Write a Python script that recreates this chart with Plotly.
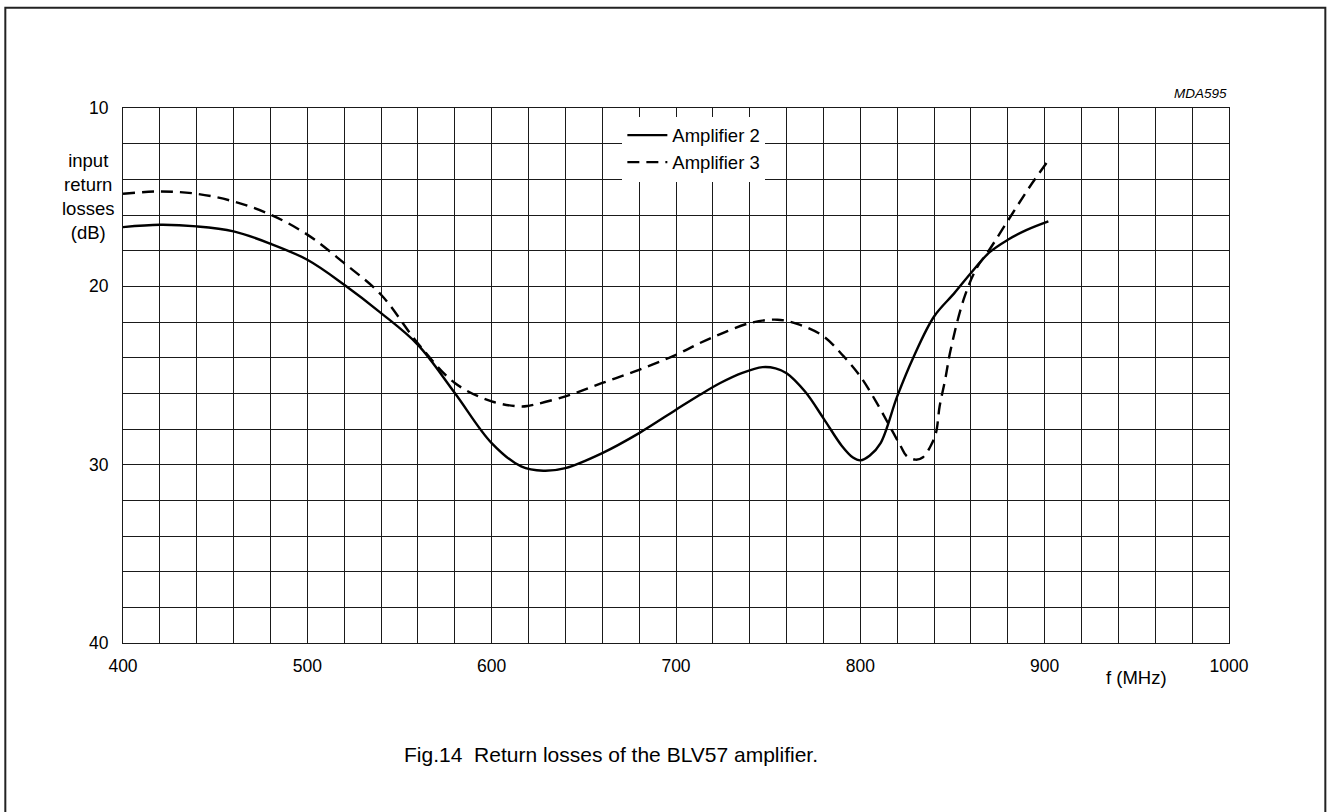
import plotly.graph_objects as go

# Input return losses (dB) versus frequency (MHz)
freq_amp2 = [400, 420, 440, 460, 480, 500, 520, 540, 560, 580, 600, 616, 628, 640,
             660, 680, 700, 713, 724, 736, 747, 754, 760, 770, 780, 790, 796,
             800, 805, 811, 820, 829, 840, 851, 860, 870, 880, 890, 902]
loss_amp2 = [16.68, 16.55, 16.64, 16.92, 17.61, 18.51, 19.91, 21.5, 23.28, 25.98,
             28.79, 30.1, 30.34, 30.19, 29.35, 28.23, 26.92, 26.08, 25.42, 24.85,
             24.53, 24.6, 24.87, 25.9, 27.4, 28.95, 29.6, 29.76, 29.5,
             28.79, 26.17, 23.93, 21.69, 20.38, 19.25, 18.1, 17.39, 16.85, 16.36]

freq_amp3 = [400, 420, 440, 460, 480, 500, 520, 540, 560, 580, 600, 616, 620, 640,
             660, 680, 700, 713, 724, 740, 755, 767, 780, 791, 800, 809, 816, 822,
             825, 830, 834, 838, 841, 843, 846, 849, 856, 863, 870, 882, 892, 903]
loss_amp3 = [14.81, 14.68, 14.81, 15.24, 15.98, 17.1, 18.7, 20.47, 23.2, 25.42,
             26.45, 26.74, 26.7, 26.17, 25.42, 24.68, 23.84, 23.18, 22.68, 22.06,
             21.87, 22.15, 22.8, 23.93, 25.05, 26.55, 27.86, 28.98, 29.5, 29.72,
             29.58, 28.98, 28.23, 26.74, 25.24, 23.56, 20.75, 19.0, 17.95, 16.0,
             14.4, 12.8]

x_ticks = [400, 500, 600, 700, 800, 900, 1000]
y_ticks = [10, 20, 30, 40]

FONT = "Liberation Sans, Arial, sans-serif"
GRID = "#1a1a1a"

fig = go.Figure()
fig.add_trace(go.Scatter(
    x=freq_amp2, y=loss_amp2, mode="lines", name="Amplifier 2",
    line=dict(color="black", width=2.4, shape="spline", smoothing=1.0),
))
fig.add_trace(go.Scatter(
    x=freq_amp3, y=loss_amp3, mode="lines", name="Amplifier 3",
    line=dict(color="black", width=2.4, dash="12px,7px", shape="spline", smoothing=1.0),
))

fig.update_xaxes(
    range=[400, 1000], tickvals=x_ticks, ticktext=[str(v) for v in x_ticks],
    showgrid=True, gridcolor=GRID, gridwidth=1,
    minor=dict(dtick=20, showgrid=True, gridcolor=GRID, gridwidth=1),
    showline=True, linecolor=GRID, linewidth=1, mirror=True,
    zeroline=False, ticks="", ticklabelstandoff=7,
    tickfont=dict(family=FONT, size=17.5, color="black"),
)
fig.update_yaxes(
    range=[40, 10], tickvals=y_ticks, ticktext=[str(v) for v in y_ticks],
    showgrid=True, gridcolor=GRID, gridwidth=1,
    minor=dict(dtick=2, showgrid=True, gridcolor=GRID, gridwidth=1),
    showline=True, linecolor=GRID, linewidth=1, mirror=True,
    zeroline=False, ticks="", ticklabelstandoff=10,
    tickfont=dict(family=FONT, size=17.5, color="black"),
)

fig.update_layout(
    width=1327, height=812,
    margin=dict(l=123, r=98, t=108, b=169),
    paper_bgcolor="white", plot_bgcolor="white",
    showlegend=True,
    legend=dict(
        x=0.4515, y=0.984, xanchor="left", yanchor="top",
        bgcolor="white", borderwidth=0,
        font=dict(family=FONT, size=18.5, color="black"),
        itemwidth=40, tracegroupgap=0,
    ),
    font=dict(family=FONT, color="black"),
    annotations=[
        dict(text="input<br>return<br>losses<br>(dB)", xref="paper", yref="paper",
             x=-0.0314, y=0.834, xanchor="center", yanchor="middle", showarrow=False,
             font=dict(family=FONT, size=18.5)),
        dict(text="f (MHz)", xref="x", yref="paper", x=950, y=-0.065,
             xanchor="center", yanchor="middle", showarrow=False,
             font=dict(family=FONT, size=18.5)),
        dict(text="<i>MDA595</i>", xref="paper", yref="paper", x=1.0, y=1.0267,
             xanchor="right", yanchor="middle", showarrow=False,
             font=dict(family=FONT, size=13.5)),
        dict(text="Fig.14  Return losses of the BLV57 amplifier.", xref="paper",
             yref="paper", x=0.2525, y=-0.2088, xanchor="left", yanchor="middle",
             showarrow=False, font=dict(family=FONT, size=21)),
    ],
    shapes=[
        dict(type="rect", xref="paper", yref="paper",
             x0=-0.1064, x1=1.0871, y0=-0.34, y1=1.1875,
             line=dict(color="#222", width=2), fillcolor="rgba(0,0,0,0)", layer="below"),
    ],
)

fig.write_html("out.html")
